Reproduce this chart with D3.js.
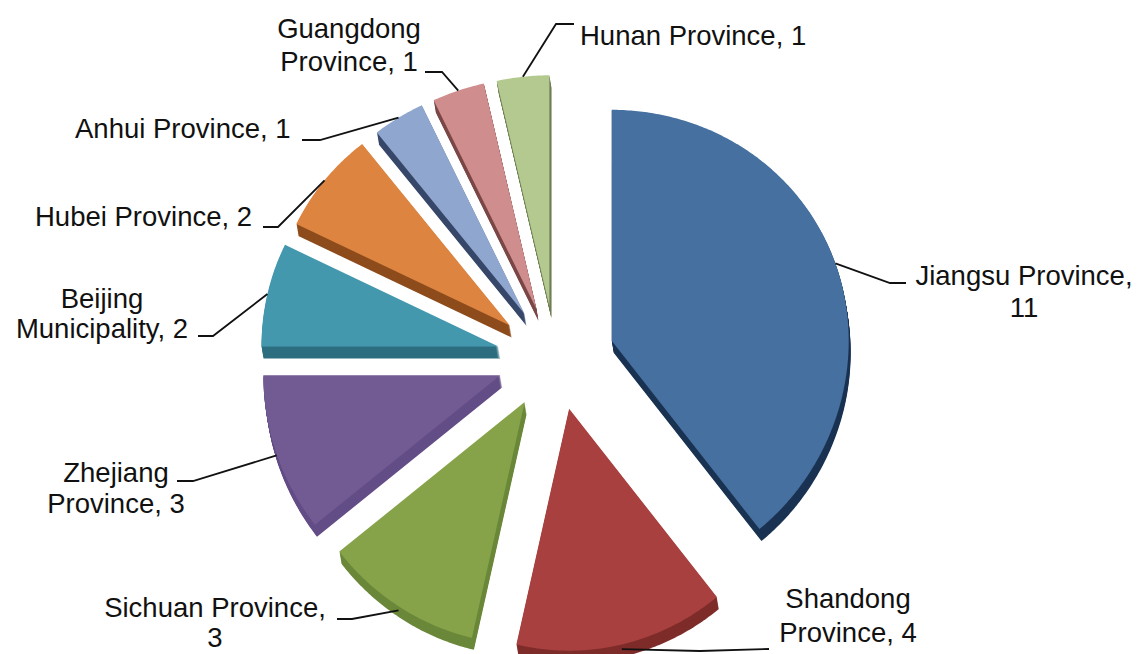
<!DOCTYPE html>
<html>
<head>
<meta charset="utf-8">
<script src="https://cdn.jsdelivr.net/npm/d3@7"></script>
<style>
  html, body { margin: 0; padding: 0; background: #fff; }
  svg { display: block; }
  .lbl { font-family: "Liberation Sans", Arial, sans-serif; font-size: 27.5px; fill: #111; white-space: pre; }
</style>
</head>
<body>
<div id="chart"></div>
<script>
// data
var provinces = ["Jiangsu Province", "Shandong Province", "Sichuan Province", "Zhejiang Province",
  "Beijing Municipality", "Hubei Province", "Anhui Province", "Guangdong Province", "Hunan Province"];
var counts = [11, 4, 3, 3, 2, 2, 1, 1, 1];

var topColors = ["#4670a0", "#a7403e", "#86a34a", "#725a92", "#4498ae", "#dc8440", "#8fa6cf", "#cf8e8d", "#b3c98f"];
var sideColors = ["#1b3353", "#7e2c2a", "#6b883a", "#634d87", "#2c6f80", "#8e4c1c", "#38486a", "#7c4848", "#707f55"];

// label placement: how the text is broken and where it sits
var labelLayout = [
  { split: "value", x: 1024, y: [285, 317], anchor: "middle", elbow: [890, 283], end: [906, 283] },
  { split: "name", x: 848, y: [608, 642], anchor: "middle", elbow: [700, 651], end: [769, 649] },
  { split: "value", x: 215, y: [617, 647], anchor: "middle", elbow: [352, 619], end: [337, 619] },
  { split: "name", x: 116, y: [482, 513], anchor: "middle", elbow: [193, 481], end: [177, 481] },
  { split: "name", x: 102, y: [308, 338], anchor: "middle", elbow: [213, 336], end: [198, 336] },
  { split: "none", x: 35, y: [226], anchor: "start", elbow: [278, 227], end: [263, 227] },
  { split: "none", x: 75, y: [138], anchor: "start", elbow: [320, 140], end: [302, 140] },
  { split: "name", x: 349, y: [38, 71], anchor: "middle", elbow: [442, 72], end: [425, 72] },
  { split: "none", x: 580, y: [45], anchor: "start", elbow: [556, 24], end: [574, 24] }
];

var width = 1138, height = 654;
var cx = 556, cy = 358, rx = 237, ryMid = 236.5, ryTilt = 5.5;
var ex = 59, ey = 52;
var depth = 12, depthX = 2;

var svg = d3.select("#chart").append("svg")
  .attr("width", width)
  .attr("height", height);

var pie = d3.pie().sort(null).value(function (d) { return d; });
var arcs = pie(counts);

// tilted pie: lower half a bit taller than the upper half
function project(mid, a, r) {
  var ax = cx + ex * Math.sin(mid), ay = cy - ey * Math.cos(mid);
  var ry = ryMid - ryTilt * Math.cos(a);
  return [ax + r * rx * Math.sin(a), ay - r * ry * Math.cos(a)];
}

function slicePoints(d) {
  var mid = (d.startAngle + d.endAngle) / 2;
  var pts = [project(mid, d.startAngle, 0)];
  var n = Math.max(8, Math.ceil((d.endAngle - d.startAngle) / 0.01));
  for (var i = 0; i <= n; i++) {
    var a = d.startAngle + (d.endAngle - d.startAngle) * i / n;
    pts.push(project(mid, a, 1));
  }
  return pts;
}

var line = d3.line();
var slices = svg.append("g");

arcs.forEach(function (d, i) {
  var pts = slicePoints(d);
  var g = slices.append("g");
  // extruded side
  for (var k = depth; k >= 1; k--) {
    g.append("path")
      .attr("d", line(pts) + "Z")
      .attr("transform", "translate(" + (depthX * k / depth) + "," + k + ")")
      .attr("fill", sideColors[i]);
  }
  // top face
  g.append("path")
    .attr("d", line(pts) + "Z")
    .attr("fill", topColors[i]);
});

// labels and leader lines
var labels = svg.append("g");
arcs.forEach(function (d, i) {
  var L = labelLayout[i];
  var mid = (d.startAngle + d.endAngle) / 2;
  var p = project(mid, mid, 1);
  if (Math.cos(mid) < 0) p[1] += depth * 0.4 * -Math.cos(mid);

  labels.append("path")
    .attr("d", line([p, L.elbow, L.end]))
    .attr("fill", "none")
    .attr("stroke", "#111")
    .attr("stroke-width", 1.8);

  var name = provinces[i], val = String(counts[i]);
  var lines;
  if (L.split === "value") lines = [name + ",", val];
  else if (L.split === "name") {
    var sp = name.indexOf(" ");
    lines = [name.slice(0, sp), name.slice(sp + 1) + ", " + val];
  } else lines = [name + ", " + val];

  lines.forEach(function (t, j) {
    labels.append("text")
      .attr("class", "lbl")
      .attr("x", L.x)
      .attr("y", L.y[j])
      .attr("text-anchor", L.anchor)
      .text(t);
  });
});
</script>
</body>
</html>
